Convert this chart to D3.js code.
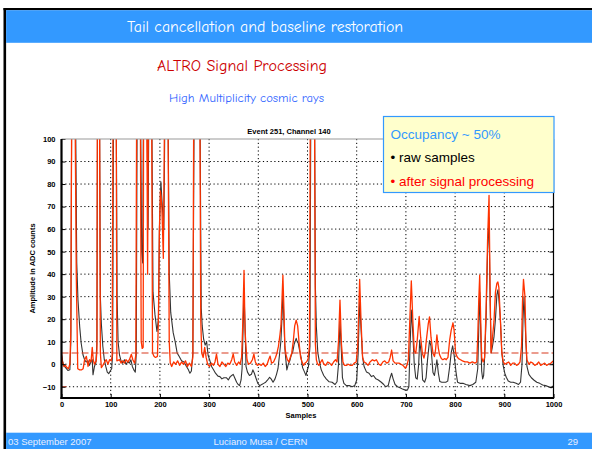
<!DOCTYPE html>
<html lang="en">
<head>
<meta charset="UTF-8">
<title>Tail cancellation and baseline restoration</title>
<script src="https://cdn.jsdelivr.net/npm/d3@7"></script>
<style>
  body { margin: 0; background: #fff; }
  svg { display: block; }
  .slide { font-family: "Comic Sans MS", "Comic Neue", "Lato", sans-serif; }
  .ax text { font-family: "Liberation Sans", Arial, sans-serif; font-weight: bold; font-size: 7.5px; fill: #000; }
  .grid line { stroke: #000; stroke-width: 1; stroke-dasharray: 1.2,2.6; }
  .legend text { font-family: "Liberation Sans", Arial, sans-serif; font-size: 13.5px; }
</style>
</head>
<body>
<svg id="chart" width="592" height="449"></svg>
<script>
// samples / amplitude pairs
const rawTrace = [[0,4],[3,0.5],[6,-1],[10,-2],[13,-2.8],[17,-2.5],[19,10],[21,130],[28,130],[31,45],[33.5,28.5],[37,16.6],[40,9.3],[43.6,4.2],[47,2],[50,1],[54,1.5],[57,-0.5],[60.6,1.5],[62.5,2],[64,-4.7],[67,-1],[70,1],[72,10],[73.5,130],[77,130],[79,30],[81,18],[84,8],[87,2],[90,-1],[93,-3.5],[96,-4.2],[99,-3],[102,-2],[104,5],[106,130],[111,130],[113,30],[115,10],[118,4],[121,1.5],[124,0.5],[128,2],[131,0],[135,1],[138,0.5],[141,2],[144,-1],[147,-2.5],[150,-3.5],[152,5],[154,130],[160,130],[163,50],[165,45],[167,130],[173,130],[176,60],[178,130],[183,130],[186,32],[190,22],[194,14.5],[197,20],[199,60],[202,81],[205,70],[208,60],[211,130],[216,130],[219,40],[222,23],[227,14],[231,10],[235,5],[239,3.5],[244,1.5],[249,1],[254,-1],[258,-2.5],[261,-4],[264,-3],[267,5],[270,130],[281,130],[284,25],[286,17],[289,11],[292,8.5],[295,10],[298,4],[301,2],[305,-1],[309,-2.5],[313,-4],[318,-5.3],[322,-5.5],[326,-6.5],[330,-6],[335,-6],[339,-7],[343,-5.5],[346,-5],[349,-4.5],[352,-6],[356,-8],[359,-9],[362,-9.5],[365,-7],[367,-2],[369,15],[371,31.5],[373,18],[375,-1],[378,-3.5],[382,-5],[386,-4.5],[389,-2.5],[392,-4],[395,-6],[399,-8.5],[403,-9.5],[407,-9],[411,-8.5],[415,-8],[419,-7],[423,-5.8],[426,-6.5],[430,-8],[434,-6.5],[437,-4.5],[440,-2],[443,4],[446,10.5],[448,20],[450,31.5],[452,20],[454,7],[456,2],[458,-2.5],[461,0],[464,1.5],[467,4],[470,5.5],[473,9],[477,11.5],[479,10],[481,9.5],[484,6],[487,3],[490,-1.5],[494,-3.5],[497,-5],[499,-3],[502,-1],[505,8],[507,130],[514,130],[516,35],[518,16.6],[521,5],[525,0],[528,-2.5],[533,-5],[538,-6.5],[544,-7.8],[550,-8],[556,-9],[560,-7.8],[563,0],[566,19],[569,5],[571,-6],[574,-8.5],[579,-9.5],[585,-9.5],[591,-10],[596,-9.5],[600,-7],[603,5],[606,27.7],[609,15],[612,3],[615,-1],[620,-3.5],[625,-4],[630,-5.5],[634,-5],[639,-6.5],[644,-7],[650,-8],[655,-9],[659,-10],[664,-9.5],[668,-6],[671,-4],[674,-6.5],[678,-9],[683,-10],[688,-10.5],[693,-11],[699,-11.5],[703,-11.5],[706,-10],[708,5],[711,24],[714,14],[717,0],[720,-6],[723,-6.6],[726,0],[728,10.7],[731,5],[734,-7],[738,-8],[741,-6],[744,2],[748,10.5],[751,8],[753,2],[755,-3.7],[758,-5],[761,-1],[763,2],[766,-4],[769,-7.7],[773,-8],[777,-8],[781,-8],[785,-7.5],[789,-1],[792,5],[795,8.2],[798,4],[802,-3.7],[805,-8],[810,-8.5],[816,-8.5],[822,-9],[830,-9.5],[836,-9],[842,-8],[846,-2],[848,15],[850,32],[852,15],[854,-3],[856,-6.5],[858,-5],[860,3],[863,20],[866,50],[869,65],[871,30],[873.5,5],[876,8],[879,12],[882,20],[885,31],[887,33],[889,29],[892,20],[895,5],[898,-1],[901,-4],[904,-5.8],[908,-7.5],[913,-8],[918,-8],[924,-8.5],[929,-9],[933,-8],[936,0],[938,20],[940,30],[943,15],[946,-1],[950,-4.5],[955,-6],[960,-7],[966,-8],[972,-8.5],[978,-9.2],[984,-9.5],[990,-10],[995,-10.5],[1000,-9.5]];

const procTrace = [[0,4.5],[2,1],[5,-1],[8,-0.5],[11,-1.5],[14,-2],[17,0],[19,15],[21,130],[27,130],[30,40],[33,-2],[37,-2.5],[41,-2.5],[44,-2],[47,2],[50.5,3.5],[54,-1],[57,2],[60,1],[62.5,7.5],[64.5,2],[67,0],[70.5,1.5],[72,6],[73,130],[77,130],[79,5],[81,-1.5],[84,-0.5],[87.6,1],[91,2],[94.4,0],[97.7,2],[101,1.5],[103,3.5],[105,130],[111,130],[112.5,1.5],[118,2],[121,0.5],[124,1.5],[128,0.5],[131,2],[135,1],[138,2],[142,4.4],[145,2],[148.6,0.5],[151,4],[153,130],[160,130],[162,10],[164,7],[166,7.5],[167,130],[173,130],[175,40],[177,130],[183,130],[185,5],[188,3.5],[191,3],[195,3.5],[197,20],[199,60],[201,77],[204,70],[207,47],[209,100],[211,130],[216,130],[219,10],[221,0.5],[224,-1],[228,1],[232,0],[236,1.5],[240,-0.5],[244,1],[248,0],[252,1.5],[256,-1],[260,0.5],[264,-1],[267,3],[269,130],[281,130],[283,20],[285,5],[288,3],[291,7.5],[294,3],[297,0],[301,-1],[305,0.5],[309,-0.5],[312,1],[315,4.5],[318,0],[322,-1],[326,1],[330,0],[334,-1],[338,0.5],[342,0],[346,2],[349,4.6],[352,1],[356,-0.5],[360,1],[363,0],[366,3],[368,15],[371,41.7],[373,15],[375,8],[377,2],[380,0],[384,0.5],[388,2],[391,4.5],[394,1],[398,-0.5],[402,0],[406,-0.5],[410,0.5],[414,-1],[418,0],[421,2],[424,3.6],[427,0.5],[431,1],[435,3],[438,5],[441,8],[444,13],[446,17],[448,28],[450,39.5],[452,25],[454,8],[456,4.5],[459,2],[462,1],[465,3],[468,5],[471,10],[474,17],[477,19.6],[480,17],[483,9.3],[486,3],[489,1],[492,-0.5],[495,0.5],[498,1],[501,2],[504,8],[506,130],[514,130],[516,9],[518,2],[520,0.4],[523,-0.5],[527,1],[530,2],[533,0],[537,-0.5],[541,1],[545,0.5],[549,-0.5],[553,1],[557,2],[560,1],[563,10],[566,28.5],[569,9],[572,1],[575,-0.5],[579,-0.5],[583,0],[587,-0.5],[591,-0.5],[595,0.5],[599,1],[602,8],[604,22],[606,37.7],[609,18],[612,3],[615,1],[619,0.5],[623,-0.5],[627,1],[632,2],[636,1.5],[640,2],[645,0],[649,-0.5],[653,1],[657,1.5],[661,0.5],[665,1],[668,3],[671,6.3],[674,1.5],[678,0.5],[682,0.5],[686,0.5],[690,0],[694,-0.5],[699,-1.8],[702,-0.5],[705,2],[708,20],[711,37],[714,20],[717,6],[720,4.9],[723,10.6],[727,21.2],[730,12],[733.4,4.9],[736.7,2.7],[739,5],[741.5,10.6],[745.5,18],[748,21],[751,12],[755,4.9],[758,3.4],[760,6],[763,13],[766,7],[768.5,4.2],[772,2.5],[775,2],[779,2.5],[782,2],[785.5,3],[789,10.8],[792,15],[795.7,18.4],[798,15],[801,5],[804,3.3],[807,2.5],[811,2],[815,1.5],[820,1],[825,1],[830,0.5],[835,1],[840,0.5],[844,1],[846,12],[848,28],[850,39.5],[852,20],[854,3],[857,1],[860,3],[863,25],[866,55],[869,75],[871,35],[873,5],[876,12],[879,19],[882,32],[885,36],[887,36.5],[889,34],[892,20],[895,5],[898,1],[901,0],[905,0.5],[909,1],[913,-0.5],[917,0.5],[921,0.5],[925,-0.5],[929,0],[932,1],[935,8],[937,28],[939,37.7],[942,30],[944,10],[946,2],[950,0],[954,1],[958,0.5],[962,-0.5],[966,0],[970,1],[974,-0.5],[978,0],[982,0.5],[986,-0.5],[990,0],[995,0.5],[1000,1.5]];

const xTicks = [0,100,200,300,400,500,600,700,800,900,1000];
const yTicks = [-10,0,10,20,30,40,50,60,70,80,90,100];
const threshold = 5;
const legendLines = ["Occupancy ~ 50%", "raw samples", "after signal processing"];

const svg = d3.select("#chart");
const W = 592, H = 449;

// slide frame
svg.append("rect").attr("x", 3.5).attr("y", 8).attr("width", W - 3.5).attr("height", 2.2).attr("fill", "#000");
svg.append("rect").attr("x", 3.5).attr("y", 8).attr("width", 2.6).attr("height", H - 8).attr("fill", "#000");
svg.append("rect").attr("x", 6.1).attr("y", 10.2).attr("width", W - 6.1).attr("height", 32.6).attr("fill", "#3399ff");
svg.append("rect").attr("x", 6.1).attr("y", 432.7).attr("width", W - 6.1).attr("height", H - 432.7).attr("fill", "#3399ff");

svg.append("text").attr("class", "slide").attr("x", 265).attr("y", 31.5)
  .attr("text-anchor", "middle").attr("font-size", 16).attr("fill", "#fff")
  .attr("textLength", 276).attr("lengthAdjust", "spacingAndGlyphs")
  .text("Tail cancellation and baseline restoration");
svg.append("text").attr("class", "slide").attr("x", 242).attr("y", 71)
  .attr("text-anchor", "middle").attr("font-size", 16).attr("fill", "#cc0000")
  .attr("textLength", 170).attr("lengthAdjust", "spacingAndGlyphs")
  .text("ALTRO Signal Processing");
svg.append("text").attr("class", "slide").attr("x", 246.5).attr("y", 102)
  .attr("text-anchor", "middle").attr("font-size", 12.5).attr("fill", "#3366ff")
  .attr("textLength", 155).attr("lengthAdjust", "spacingAndGlyphs")
  .text("High Multiplicity cosmic rays");

// footer
const foot = svg.append("g").attr("font-family", "Liberation Sans, Arial, sans-serif")
  .attr("font-size", 9.5).attr("fill", "#e8eeff");
foot.append("text").attr("x", 8).attr("y", 444.5).text("03 September 2007");
foot.append("text").attr("x", 260.5).attr("y", 444.5).attr("text-anchor", "middle").text("Luciano Musa / CERN");
foot.append("text").attr("x", 578).attr("y", 444.5).attr("text-anchor", "end").text("29");

// plot
const pl = 61.5, pr = 553.5, pt = 139, pb = 398;
const x = d3.scaleLinear().domain([0, 1000]).range([pl, pr]);
const y = d3.scaleLinear().domain([-15, 100]).range([pb, pt]);

svg.append("defs").append("clipPath").attr("id", "clip")
  .append("rect").attr("x", pl).attr("y", pt).attr("width", pr - pl).attr("height", pb - pt);

const grid = svg.append("g").attr("class", "grid");
grid.selectAll(".gx").data(xTicks.slice(1, -1)).join("line")
  .attr("x1", d => x(d)).attr("x2", d => x(d)).attr("y1", pt).attr("y2", pb);
grid.selectAll(".gy").data(yTicks.slice(0, -1)).join("line")
  .attr("class", "gy")
  .attr("x1", pl).attr("x2", pr).attr("y1", d => y(d)).attr("y2", d => y(d));

const line = d3.line().x(d => x(d[0])).y(d => y(d[1]));
const traces = svg.append("g").attr("clip-path", "url(#clip)");
traces.append("path").datum(rawTrace).attr("d", line)
  .attr("fill", "none").attr("stroke", "#333").attr("stroke-width", 1.1).attr("stroke-linejoin", "round");
traces.append("path").datum(procTrace).attr("d", line)
  .attr("fill", "none").attr("stroke", "#ff3300").attr("stroke-width", 1.3).attr("stroke-linejoin", "round");
traces.append("line").attr("x1", x(0)).attr("x2", x(1000)).attr("y1", y(threshold)).attr("y2", y(threshold))
  .attr("stroke", "#d83a1e").attr("stroke-width", 1.1).attr("stroke-dasharray", "7,3");
traces.append("line").attr("x1", x(0)).attr("x2", x(10)).attr("y1", y(-10)).attr("y2", y(-10))
  .attr("stroke", "#d83a1e").attr("stroke-width", 1.1);

// axes
const ax = svg.append("g").attr("class", "ax");
ax.append("g").attr("transform", `translate(${pl},0)`)
  .call(d3.axisLeft(y).tickValues(yTicks).tickSize(-4).tickPadding(6))
  .call(g => g.select(".domain").remove());
ax.append("g").attr("transform", `translate(${pr},0)`)
  .call(d3.axisRight(y).tickValues(yTicks).tickSize(-4).tickFormat(""))
  .call(g => g.select(".domain").remove());
ax.append("g").attr("transform", `translate(0,${pb})`)
  .call(d3.axisBottom(x).tickValues(xTicks).tickSize(-4).tickPadding(4).tickFormat(d3.format("d")))
  .call(g => g.select(".domain").remove());
ax.selectAll(".tick line").attr("stroke", "#000").attr("stroke-width", 1);

svg.append("line").attr("x1", pl).attr("x2", pr).attr("y1", pt).attr("y2", pt).attr("stroke", "#999").attr("stroke-width", 1);
svg.append("line").attr("x1", pr).attr("x2", pr).attr("y1", pt).attr("y2", pb).attr("stroke", "#000").attr("stroke-width", 1.2);
svg.append("line").attr("x1", pl).attr("x2", pl).attr("y1", pt).attr("y2", pb + 1).attr("stroke", "#000").attr("stroke-width", 2.2);
svg.append("line").attr("x1", pl - 1).attr("x2", pr + 0.6).attr("y1", pb).attr("y2", pb).attr("stroke", "#000").attr("stroke-width", 2.2);

ax.append("text").attr("x", 289).attr("y", 133.5).attr("text-anchor", "middle").text("Event 251, Channel 140");
ax.append("text").attr("x", 301).attr("y", 417.5).attr("text-anchor", "middle").attr("font-size", 8).text("Samples");
ax.append("text").attr("transform", `translate(35,${(pt + pb) / 2}) rotate(-90)`)
  .attr("text-anchor", "middle").attr("font-size", 7.5).text("Amplitude in ADC counts");

// legend box
const lg = svg.append("g").attr("class", "legend");
lg.append("rect").attr("x", 383.5).attr("y", 116.5).attr("width", 170.5).attr("height", 76)
  .attr("fill", "#ffffcc").attr("stroke", "#3399ff").attr("stroke-width", 1.2);
lg.append("text").attr("x", 390.5).attr("y", 138.5).attr("fill", "#3399ff").text(legendLines[0]);
lg.append("text").attr("x", 390.5).attr("y", 162).attr("fill", "#000").text("\u2022 " + legendLines[1]);
lg.append("text").attr("x", 390.5).attr("y", 186).attr("fill", "#ff0000").text("\u2022 " + legendLines[2]);
</script>
</body>
</html>
